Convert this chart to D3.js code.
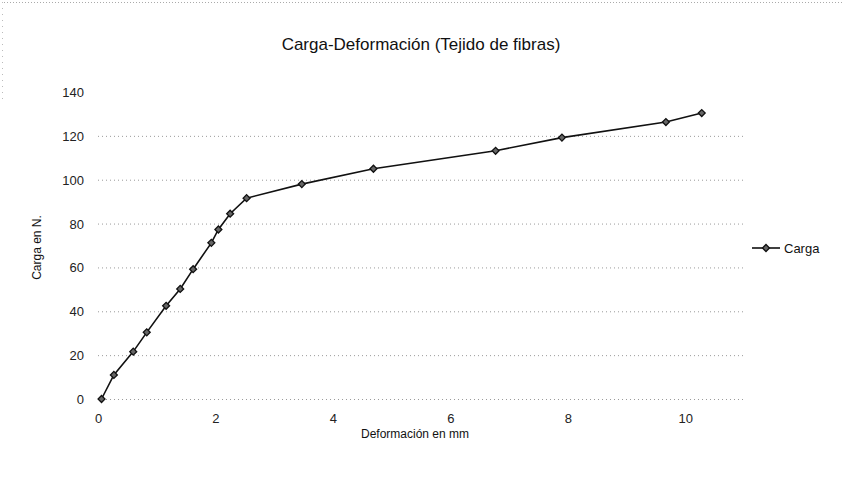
<!DOCTYPE html>
<html>
<head>
<meta charset="utf-8">
<script src="https://cdn.jsdelivr.net/npm/d3@7"></script>
<style>
  body { margin: 0; background: #fff; }
  svg { font-family: "Liberation Sans", Arial, sans-serif; }
  .grid line { stroke: #9a9a9a; stroke-width: 1; stroke-dasharray: 1 3; }
  .axis text { font-size: 13px; fill: #222; }
</style>
</head>
<body>
<svg id="chart" width="847" height="477"></svg>
<script>
/* Carga-Deformación scatter line */

const deformacion = [0.06, 0.27, 0.6, 0.83, 1.16, 1.4, 1.62, 1.93, 2.05, 2.25, 2.53, 3.47, 4.69, 6.77, 7.9, 9.67, 10.28];
const carga       = [0, 11, 21.6, 30.4, 42.5, 50.2, 59.2, 71.2, 77.3, 84.5, 91.6, 98, 105, 113.2, 119.2, 126.3, 130.4];
const xTicks = [0, 2, 4, 6, 8, 10];
const yTicks = [0, 20, 40, 60, 80, 100, 120, 140];

const M = { left: 98, right: 744, top: 92, bottom: 399 };

const svg = d3.select('#chart');

const x = d3.scaleLinear().domain([0, 11]).range([M.left, M.right]);
const y = d3.scaleLinear().domain([0, 140]).range([M.bottom, M.top]);

// faint dotted frame left over from the scan
svg.append('line').attr('x1', 4).attr('x2', 843).attr('y1', 2.5).attr('y2', 2.5)
  .attr('stroke', '#aaa').attr('stroke-dasharray', '1 2');
svg.append('line').attr('x1', 2.5).attr('x2', 2.5).attr('y1', 2).attr('y2', 100)
  .attr('stroke', '#bbb').attr('stroke-dasharray', '1 5');

// gridlines
svg.append('g').attr('class', 'grid')
  .selectAll('line').data(yTicks.filter(t => t < 140)).join('line')
  .attr('x1', M.left).attr('x2', M.right)
  .attr('y1', d => y(d) + 0.5).attr('y2', d => y(d) + 0.5);

// axes (no lines, labels only)
const yAxis = svg.append('g').attr('class', 'axis')
  .attr('transform', `translate(${M.left},0)`)
  .call(d3.axisLeft(y).tickValues(yTicks).tickSize(0).tickPadding(14));
yAxis.select('.domain').remove();
yAxis.selectAll('text').attr('dy', '0.35em');

const xAxis = svg.append('g').attr('class', 'axis')
  .attr('transform', `translate(0,${M.bottom})`)
  .call(d3.axisBottom(x).tickValues(xTicks).tickSize(0).tickPadding(15));
xAxis.select('.domain').remove();

// titles
svg.append('text').attr('x', 421).attr('y', 50)
  .attr('text-anchor', 'middle').attr('font-size', 17).attr('fill', '#111')
  .text('Carga-Deformación (Tejido de fibras)');

svg.append('text').attr('x', 415).attr('y', 438)
  .attr('text-anchor', 'middle').attr('font-size', 12).attr('fill', '#111')
  .text('Deformación en mm');

svg.append('text')
  .attr('transform', `translate(41,${(M.top + M.bottom) / 2 + 2}) rotate(-90)`)
  .attr('text-anchor', 'middle').attr('font-size', 12).attr('fill', '#111')
  .text('Carga en N.');

// series
const pts = deformacion.map((d, i) => [d, carga[i]]);

svg.append('path').datum(pts)
  .attr('fill', 'none').attr('stroke', '#111').attr('stroke-width', 1.6)
  .attr('d', d3.line().x(d => x(d[0])).y(d => y(d[1])));

// square turned 45deg gives an even diamond like the original marker
const diamond = d3.symbol().type(d3.symbolSquare).size(24);
svg.append('g').selectAll('path').data(pts).join('path')
  .attr('transform', d => `translate(${x(d[0])},${y(d[1])}) rotate(45)`)
  .attr('d', diamond)
  .attr('fill', '#666').attr('stroke', '#111').attr('stroke-width', 1.3);

// legend
const lg = svg.append('g').attr('transform', 'translate(752,248)');
lg.append('line').attr('x1', 0).attr('x2', 28).attr('y1', 0).attr('y2', 0)
  .attr('stroke', '#111').attr('stroke-width', 1.6);
lg.append('path').attr('transform', 'translate(14,0) rotate(45)').attr('d', diamond)
  .attr('fill', '#666').attr('stroke', '#111').attr('stroke-width', 1.3);
lg.append('text').attr('x', 32).attr('y', 5).attr('font-size', 13).attr('fill', '#111')
  .text('Carga');
</script>
</body>
</html>
